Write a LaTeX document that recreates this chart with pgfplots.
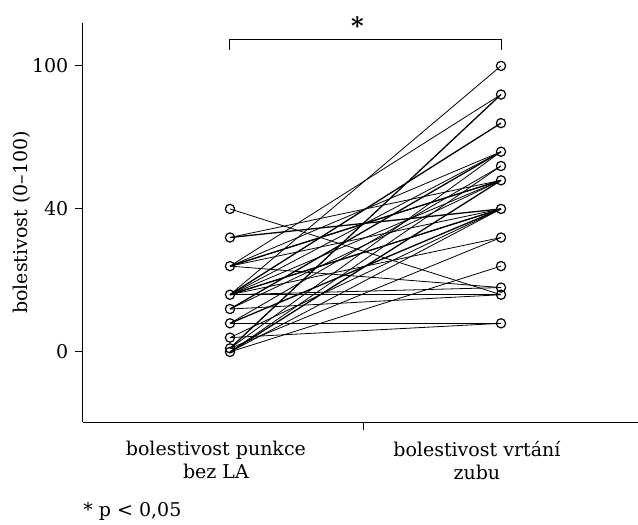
\documentclass[border=0pt]{standalone}
\usepackage{pgfplots}
\pgfplotsset{compat=1.18}
\usepackage{fontspec}
\setmainfont{DejaVu Serif}
\begin{document}
\fontsize{9.5}{11.5}\selectfont
\begin{tikzpicture}
\begin{axis}[
  scale only axis,
  width=277.5pt, height=199.5pt,
  xmin=0.4576, xmax=2.5055,
  ymin=-19.6, ymax=92,
  axis lines=left,
  axis line style={-, line width=0.5pt},
  tick align=outside,
  major tick length=4pt,
  tick style={black, line width=0.5pt},
  xtick={1.494}, xticklabels={},
  ytick={0,40,80}, yticklabels={0,40,100},
  /pgf/number format/assume math mode=true,
  ylabel={bolestivost (0–100)},
  ylabel style={yshift=-6pt},
  clip=false,
  cycle list={{black, solid, line width=0.65pt, mark=none}},
]
% paired observations (left = punkce bez LA, right = vrtání zubu)
\addplot coordinates {(1,40) (2,16)};
\addplot coordinates {(1,32) (2,48)};
\addplot coordinates {(1,32) (2,40)};
\addplot coordinates {(1,24) (2,72)};
\addplot coordinates {(1,24) (2,56)};
\addplot coordinates {(1,24) (2,48)};
\addplot coordinates {(1,24) (2,48)};
\addplot coordinates {(1,24) (2,40)};
\addplot coordinates {(1,24) (2,18)};
\addplot coordinates {(1,16) (2,80)};
\addplot coordinates {(1,16) (2,64)};
\addplot coordinates {(1,16) (2,56)};
\addplot coordinates {(1,16) (2,48)};
\addplot coordinates {(1,16) (2,40)};
\addplot coordinates {(1,16) (2,40)};
\addplot coordinates {(1,16) (2,32)};
\addplot coordinates {(1,16) (2,18)};
\addplot coordinates {(1,16) (2,16)};
\addplot coordinates {(1,12) (2,56)};
\addplot coordinates {(1,12) (2,48)};
\addplot coordinates {(1,12) (2,16)};
\addplot coordinates {(1,8) (2,52)};
\addplot coordinates {(1,8) (2,40)};
\addplot coordinates {(1,8) (2,8)};
\addplot coordinates {(1,4) (2,40)};
\addplot coordinates {(1,4) (2,8)};
\addplot coordinates {(1,1) (2,72)};
\addplot coordinates {(1,1) (2,56)};
\addplot coordinates {(1,1) (2,32)};
\addplot coordinates {(1,0) (2,52)};
\addplot coordinates {(1,0) (2,48)};
\addplot coordinates {(1,0) (2,40)};
\addplot coordinates {(1,0) (2,24)};
% circles
\addplot[black, only marks, mark=o, mark size=2.3pt, mark options={fill=white, draw=black, solid, line width=0.6pt}] coordinates {
 (1,40) (1,32) (1,24) (1,16) (1,12) (1,8) (1,4) (1,1) (1,0)
 (2,80) (2,72) (2,64) (2,56) (2,52) (2,48) (2,40) (2,32) (2,24) (2,18) (2,16) (2,8)};
% significance bracket
\draw[line width=0.5pt] (axis cs:1,84.5) -- (axis cs:1,87.3) -- (axis cs:2,87.3) -- (axis cs:2,84.5);
\node[font=\fontsize{12}{12}\selectfont\bfseries] at (axis cs:1.47,91.3) {*};
% category labels
\node[align=center, anchor=north] at (axis cs:0.948,-23) {bolestivost punkce\\bez LA};
\node[align=center, anchor=north] at (axis cs:1.911,-23) {bolestivost vrtání\\zubu};
\node[anchor=west, inner sep=0pt] at (axis cs:0.4576,-44.5) {* p < 0,05};
\end{axis}
\pgfresetboundingbox
\path (current axis.south west) ++(-41.5pt,-51.5pt) rectangle ++(319pt,262.5pt);
\end{tikzpicture}
\end{document}
